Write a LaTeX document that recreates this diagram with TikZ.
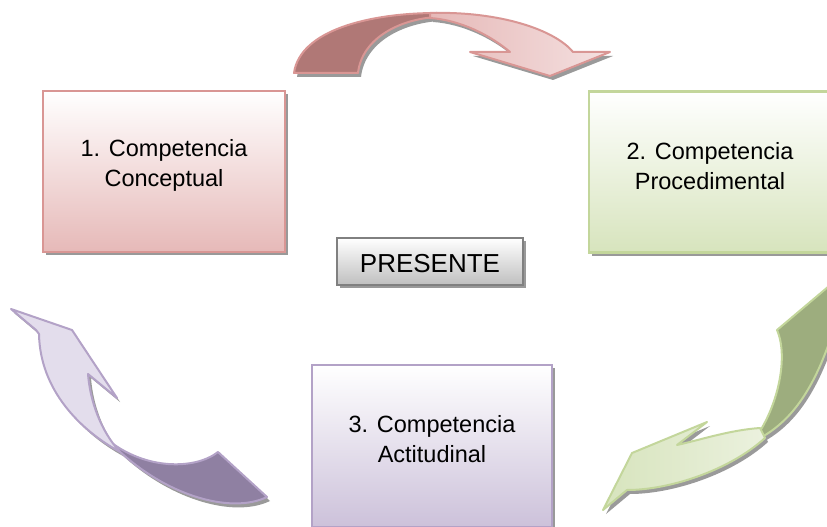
\documentclass[tikz,border=0pt]{standalone}
\usepackage{fontspec}
\setmainfont{Liberation Sans}
\usetikzlibrary{shadows}
\definecolor{redB}{HTML}{D99694}
\definecolor{redF}{HTML}{E6B9B8}
\definecolor{redD}{HTML}{B07876}
\definecolor{redL}{HTML}{F4E0E0}
\definecolor{greenB}{HTML}{C3D69B}
\definecolor{greenF}{HTML}{D7E4BD}
\definecolor{greenD}{HTML}{9DAD7E}
\definecolor{greenL}{HTML}{EBF1DE}
\definecolor{purpB}{HTML}{B3A2C7}
\definecolor{purpF}{HTML}{CCC1DA}
\definecolor{purpD}{HTML}{8F80A2}
\definecolor{purpL}{HTML}{E3DDEC}
\definecolor{shadowgray}{HTML}{9A9A9A}
\newcommand\ArrTopDark[1]{\path[#1] (294,73) .. controls (300,30) and (370,13) .. (437,13) -- (437,17) .. controls (400,19) and (362,38) .. (358,73) -- cycle;}
\newcommand\ArrTopLight[1]{\path[#1] (430,13) .. controls (500,11) and (555,30) .. (573,52) -- (610,52) -- (550,76) -- (470,52) -- (510,52) .. controls (490,35) and (460,20) .. (430,18) -- cycle;}
\newcommand\ArrLeftLight[1]{\path[#1] (11,309) -- (72,330) -- (117,398) -- (88,374) .. controls (90,400) and (100,430) .. (120,452) .. controls (80,430) and (40,390) .. (39,334) -- (36,330) -- cycle;}
\newcommand\ArrLeftDark[1]{\path[#1] (108,440) .. controls (145,470) and (195,470) .. (218,452) -- (267,497) .. controls (230,515) and (160,495) .. (108,440) -- cycle;}
\newcommand\ArrRightDark[1]{\path[#1] (777,330) -- (835,281) -- (835,325) .. controls (815,390) and (790,425) .. (752,442) .. controls (775,415) and (790,360) .. (777,330) -- cycle;}
\newcommand\ArrRightLight[1]{\path[#1] (760,428) .. controls (730,430) and (700,440) .. (677,445) -- (707,422) -- (632,453) -- (603,510) -- (627,490) .. controls (670,490) and (730,470) .. (765,438) -- cycle;}
\tikzset{
  cbox/.style={line width=2.2bp, minimum width=242bp, minimum height=161bp, inner sep=0pt,
    drop shadow={shadow xshift=3bp,shadow yshift=-3bp,fill=black,opacity=.4}},
  ctext/.style={align=center, font=\fontsize{23.5bp}{29.5bp}\selectfont, inner sep=0pt, text=black},
  arrline/.style={line width=2bp, line join=round},
  arrshadow/.style={fill=shadowgray, shift={(3,4)}}
}
\begin{document}
\begin{tikzpicture}[x=1bp,y=-1bp]
\useasboundingbox (0,0) rectangle (827,527);
\clip (0,0) rectangle (827,527);
% boxes
\node[cbox, draw=redB, top color=white, bottom color=redF] (b1) at (164,171.5) {};
\node[cbox, draw=greenB, top color=white, bottom color=greenF] (b2) at (710,172) {};
\node[cbox, draw=purpB, top color=white, bottom color=purpF, minimum width=240bp, minimum height=162bp] (b3) at (432,446) {};
\node[line width=2bp, draw=black!50, top color=white, bottom color=black!25, minimum width=186bp, minimum height=47bp, inner sep=0pt,
  drop shadow={shadow xshift=3bp,shadow yshift=-3bp,fill=black,opacity=.4}] (pr) at (430,261.5) {};
\node[ctext] (t1) at ([yshift=6bp]b1.center) {1. Competencia\\Conceptual};
\node[ctext] (t2) at ([yshift=6bp]b2.center) {2. Competencia\\Procedimental};
\node[ctext] (t3) at ([yshift=7bp]b3.center) {3. Competencia\\Actitudinal};
\node[font=\fontsize{26bp}{30bp}\selectfont, inner sep=0pt] (tp) at ([yshift=-2bp]pr.center) {PRESENTE};
% top arrow
\ArrTopDark{arrshadow}
\ArrTopLight{arrshadow}
\ArrTopDark{fill=redD, draw=redB, arrline}
\ArrTopLight{left color=redF, right color=redL, draw=redB, arrline}
% left arrow
\ArrLeftDark{arrshadow}
\ArrLeftLight{arrshadow}
\ArrLeftDark{fill=purpD, draw=purpB, arrline}
\ArrLeftLight{fill=purpL, draw=purpB, arrline}
% right arrow
\ArrRightDark{arrshadow}
\ArrRightLight{arrshadow}
\ArrRightDark{fill=greenD, draw=greenB, arrline}
\ArrRightLight{left color=greenF, right color=greenL, draw=greenB, arrline}
\end{tikzpicture}
\end{document}
